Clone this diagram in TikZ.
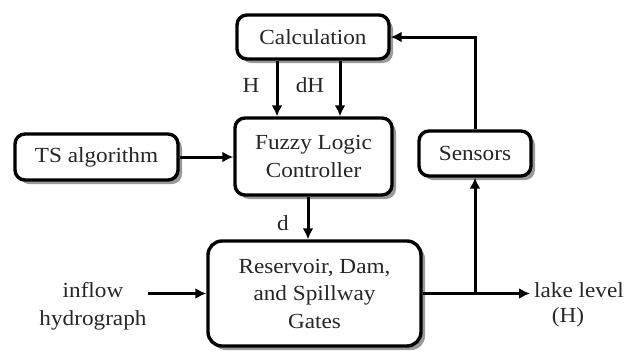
\documentclass[tikz,border=0pt]{standalone}
\usepackage{fontspec}
\setmainfont{Liberation Serif}[FakeStretch=1.08]
\usetikzlibrary{arrows.meta,shadows}
\begin{document}
\begin{tikzpicture}[x=1pt,y=-1pt,
  box/.style={draw=black, line width=3.4pt, rounded corners=10pt, fill=white,
    drop shadow={shadow xshift=4pt, shadow yshift=-4pt, fill=black!50, opacity=0.8},
    align=center, inner sep=0pt},
  txt/.style={font=\fontsize{21.5pt}{27.5pt}\selectfont, text=black!85},
  arr/.style={line width=3pt, -{Latex[length=11pt,width=11pt]}},
  ln/.style={line width=3pt}]
\useasboundingbox (0,0) rectangle (627,354);
\node[box,txt,minimum width=152pt,minimum height=44pt] (calc) at (313,37) {Calculation};
\node[box,txt,minimum width=157pt,minimum height=77pt] (flc) at (313.5,156.5) {Fuzzy Logic\\Controller};
\node[box,txt,minimum width=163pt,minimum height=46pt] (ts) at (96.5,157) {TS algorithm};
\node[box,txt,minimum width=112pt,minimum height=45pt] (sens) at (475,153.5) {Sensors};
\node[box,txt,minimum width=213pt,minimum height=105pt,rounded corners=14pt] (res) at (314.5,293.5) {Reservoir, Dam,\\and Spillway\\Gates};
\node[txt,align=center] (inflow) at (93,306) {inflow\\hydrograph};
\node[txt] (lake) at (579,290) {lake level};
\node[txt] (lakeH) at (568,317) {(H)};
\node[txt] (lH) at (251,85) {H};
\node[txt] (ldH) at (310,85) {dH};
\node[txt] (ld) at (283,223) {d};
\coordinate (hx) at (277,0);
\coordinate (dhx) at (340,0);
\coordinate (dx) at (308,0);
\coordinate (jn) at (sens.south |- res.east);
\coordinate (outend) at (530,293.5);
\coordinate (inend) at (148,293.5);
\draw[arr] (hx |- calc.south) -- (hx |- flc.north);
\draw[arr] (dhx |- calc.south) -- (dhx |- flc.north);
\draw[arr] (dx |- flc.south) -- (dx |- res.north);
\draw[arr] (ts.east) -- (ts.east -| flc.west);
\draw[arr] (inend) -- (inend -| res.west);
\draw[arr] (res.east) -- (outend);
\draw[arr] (jn) -- (sens.south);
\draw[arr] (sens.north) |- (calc.east);
\end{tikzpicture}
\end{document}
